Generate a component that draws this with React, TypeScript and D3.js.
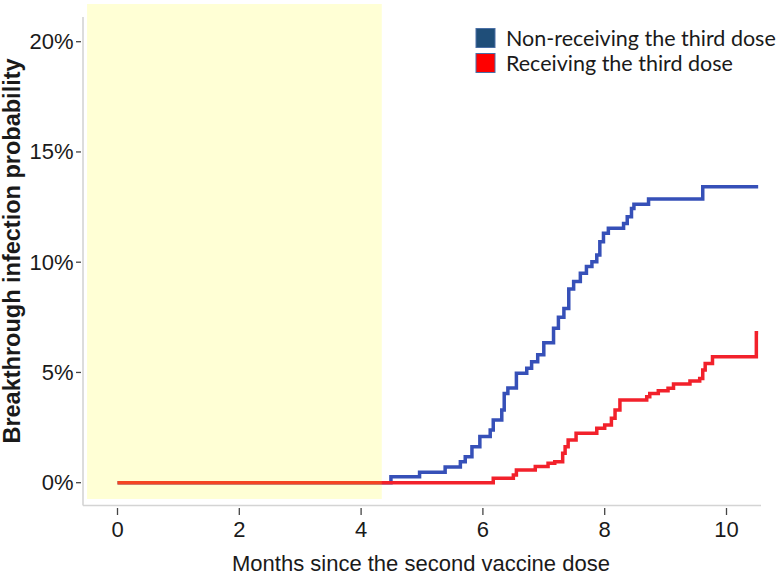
import React from "react";
import * as d3 from "d3";

const blueTimes = [0, 4.49, 4.96, 5.38, 5.63, 5.71, 5.82, 5.95, 6.12, 6.17, 6.31, 6.35, 6.41, 6.55, 6.72, 6.8, 6.9, 7.0, 7.16, 7.24, 7.33, 7.41, 7.49, 7.6, 7.7, 7.79, 7.87, 7.92, 7.98, 8.06, 8.31, 8.37, 8.44, 8.48, 8.72, 9.61, 10.52];
const blueValues = [0, 0.27, 0.47, 0.71, 0.95, 1.18, 1.63, 2.09, 2.39, 2.84, 3.3, 4.05, 4.29, 4.96, 5.19, 5.49, 5.8, 6.35, 7.0, 7.5, 7.9, 8.78, 9.12, 9.5, 9.8, 10.02, 10.33, 10.93, 11.31, 11.54, 11.76, 12.06, 12.44, 12.63, 12.87, 13.42, 13.42];

const redTimes = [0, 6.17, 6.5, 6.55, 6.86, 7.07, 7.18, 7.31, 7.35, 7.4, 7.53, 7.87, 8.0, 8.11, 8.17, 8.25, 8.69, 8.74, 8.88, 9.04, 9.13, 9.4, 9.56, 9.61, 9.65, 9.77, 10.49, 10.52];
const redValues = [0, 0.2, 0.35, 0.58, 0.73, 0.88, 0.95, 1.33, 1.63, 1.94, 2.24, 2.47, 2.62, 2.92, 3.3, 3.75, 3.9, 4.05, 4.17, 4.28, 4.48, 4.61, 4.73, 5.11, 5.41, 5.71, 6.8, 6.8];

const xTicks = [0, 2, 4, 6, 8, 10];
const yTicks = [0, 5, 10, 15, 20];
const yTickLabels = ["0%", "5%", "10%", "15%", "20%"];

const seriesNames = ["Non-receiving the third dose", "Receiving the third dose"];
const shadedPeriod = [-0.5, 4.34];

export default function App() {
  const x = d3.scaleLinear().domain([0, 10]).range([117.5, 726.5]);
  const y = d3.scaleLinear().domain([0, 20]).range([482.7, 41.7]);

  const line = d3
    .line<[number, number]>()
    .x((d) => x(d[0]))
    .y((d) => y(d[1]))
    .curve(d3.curveStepAfter);

  const blueData: [number, number][] = blueTimes.map((t, i) => [t, blueValues[i]]);
  const redData: [number, number][] = redTimes.map((t, i) => [t, redValues[i]]);

  const plotLeft = 83;
  const plotRight = 761;
  const plotBottom = 505.5;
  const plotTop = 17;

  const tickFont = "Arial, 'Liberation Sans', sans-serif";

  return (
    <svg
      width={777}
      height={575}
      style={{ position: "absolute", left: 0, top: 0, background: "#fff" }}
    >
      {/* axes lines */}
      <line x1={plotLeft} x2={plotLeft} y1={plotTop} y2={plotBottom} stroke="#d4d4d4" strokeWidth={1.6} />
      <line x1={plotLeft} x2={plotRight} y1={plotBottom} y2={plotBottom} stroke="#d4d4d4" strokeWidth={1.6} />

      {/* y ticks */}
      {yTicks.map((v, i) => (
        <g key={"y" + v}>
          <line x1={76} x2={81} y1={y(v)} y2={y(v)} stroke="#444" strokeWidth={1.3} />
          <text
            x={73.5}
            y={y(v)}
            textAnchor="end"
            dominantBaseline="central"
            fontFamily={tickFont}
            fontSize={22}
            fill="#1a1a1a"
          >
            {yTickLabels[i]}
          </text>
        </g>
      ))}

      {/* x ticks */}
      {xTicks.map((v) => (
        <g key={"x" + v}>
          <line x1={x(v)} x2={x(v)} y1={508} y2={515} stroke="#444" strokeWidth={1.3} />
          <text x={x(v)} y={537} textAnchor="middle" fontFamily={tickFont} fontSize={22} fill="#1a1a1a">
            {v}
          </text>
        </g>
      ))}

      {/* lines */}
      <path d={line(blueData) || ""} fill="none" stroke="#3650B8" strokeWidth={3.5} />
      <path d={line(redData) || ""} fill="none" stroke="#F2212B" strokeWidth={3.5} />

      {/* shaded period */}
      <rect
        x={x(shadedPeriod[0])}
        y={4}
        width={x(shadedPeriod[1]) - x(shadedPeriod[0])}
        height={495}
        fill="rgba(255,255,0,0.165)"
      />

      {/* axis titles */}
      <text x={232} y={571} fontFamily={tickFont} fontSize={22} fill="#1a1a1a">
        Months since the second vaccine dose
      </text>
      <text
        transform="translate(20,251) rotate(-90)"
        textAnchor="middle"
        fontFamily={tickFont}
        fontWeight="bold"
        fontSize={23.5}
        fill="#1a1a1a"
      >
        Breakthrough infection probability
      </text>

      {/* legend */}
      <rect x={476} y={28.5} width={19} height={19} fill="#1F4E79" stroke="#4a6fa5" strokeWidth={1} />
      <rect x={476} y={53.5} width={19} height={19} fill="#FF0000" stroke="#4a6fa5" strokeWidth={1} />
      <text x={506} y={38} dominantBaseline="central" fontFamily="Lato, 'Open Sans', sans-serif" fontSize={21.5} fill="#1a1a1a">
        {seriesNames[0]}
      </text>
      <text x={506} y={63} dominantBaseline="central" fontFamily="Lato, 'Open Sans', sans-serif" fontSize={21.5} fill="#1a1a1a">
        {seriesNames[1]}
      </text>
    </svg>
  );
}
